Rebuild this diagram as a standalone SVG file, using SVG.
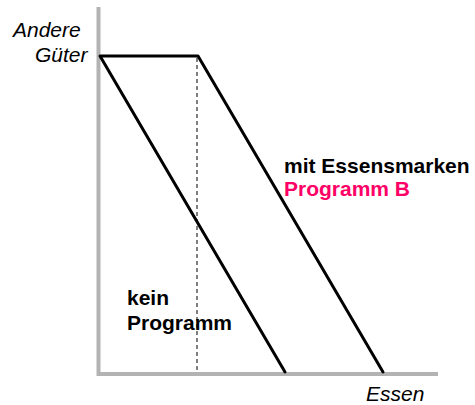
<svg xmlns="http://www.w3.org/2000/svg" width="475" height="405" viewBox="0 0 475 405">
<style>
.axis{stroke:#b3b3b3;stroke-width:4;fill:none}
.bl{stroke:#000;stroke-width:3;fill:none;stroke-linecap:round;stroke-linejoin:round}
.dash{stroke:#000;stroke-width:1;stroke-dasharray:4 3;fill:none}
.it{font-family:"Liberation Sans",Arial,sans-serif;font-style:italic;font-size:21px;fill:#000}
.bd{font-family:"Liberation Sans",Arial,sans-serif;font-weight:bold;font-size:21px;fill:#000}
</style>
<rect width="475" height="405" fill="#fff"/>
<g id="axes">
<polyline class="axis" points="98.5,7 98.5,374 438,374"/>
</g>
<g id="connectors">
<line class="dash" x1="197" y1="58" x2="197" y2="373"/>
<polyline class="bl" points="285,372 100,56 198,56 383,372"/>
</g>
<g id="label-y">
<text class="it" x="13" y="37">Andere</text>
<text class="it" x="35" y="62">Güter</text>
</g>
<g id="label-x">
<text class="it" x="366" y="401">Essen</text>
</g>
<g id="label-b">
<text class="bd" x="284" y="173">mit Essensmarken</text>
<text class="bd" x="284" y="196" style="fill:#ff0066">Programm B</text>
</g>
<g id="label-kein">
<text class="bd" x="127" y="305">kein</text>
<text class="bd" x="127" y="330">Programm</text>
</g>
</svg>
